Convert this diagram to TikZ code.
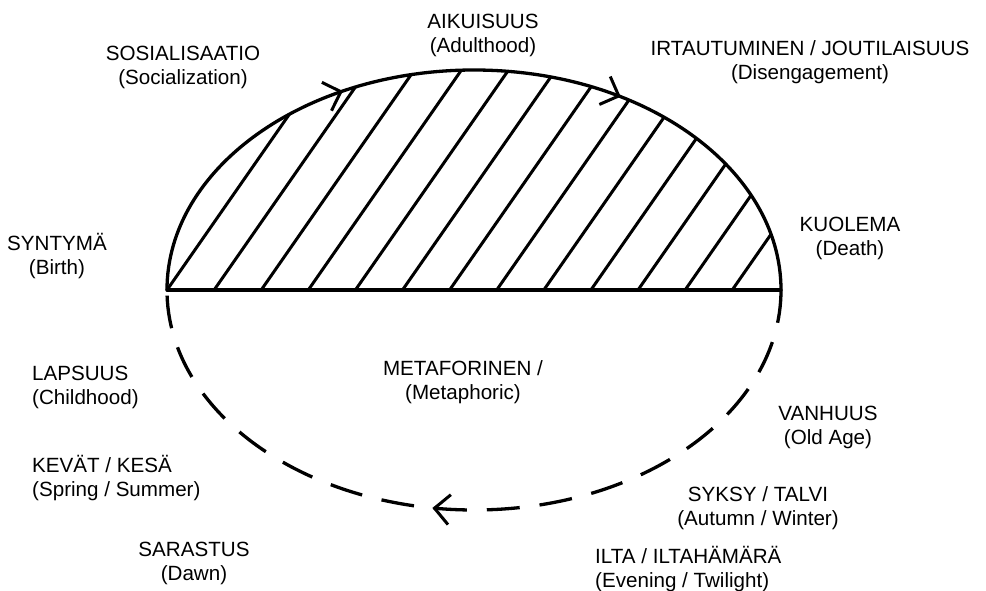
\documentclass[tikz,border=0pt]{standalone}
\usepackage{fontspec}
\setmainfont{Liberation Sans}
\usepackage{tikz}
\usepackage{xcolor}
\usetikzlibrary{
  arrows.meta, decorations.markings,
}
\definecolor{inkline}{RGB}{0,0,0}
\tikzset{
  stagelabel/.style={font=\fontsize{20.6}{24}\selectfont,align=center,inner sep=0pt,text=inkline},
  stageleft/.style={stagelabel,align=left,anchor=west},
  lifeline/.style={line width=3.3pt,inkline,line cap=round},
  hatchline/.style={line width=3pt,inkline},
  dashline/.style={line width=3.3pt,inkline,dash pattern=on 33pt off 20pt},
  barb/.tip={Straight Barb[length=15pt,width=30pt,line width=3pt]},
}

\begin{document}
\begin{tikzpicture}[x=1pt,y=-1pt]
  \useasboundingbox (0,0) rectangle (986,591);
  % Birth and death ends of the cycle
  \coordinate (birth) at (167,290);
  \coordinate (death) at (781,290);
  % Hatched upper half
  \begin{scope}
    \clip (birth) arc[start angle=180,end angle=360,x radius=307,y radius=220] -- cycle;
    \foreach \k in {0,...,12}
      \draw[hatchline] ({167+47.1*\k},290) -- ++(165,-237);
  \end{scope}
  \draw[lifeline] (birth) -- (death);
  \draw[lifeline,postaction={decorate},decoration={markings,
      mark=at position 0.34 with {\arrow{barb}},
      mark=at position 0.68 with {\arrow{barb}}}]
    (birth) arc[start angle=180,end angle=360,x radius=307,y radius=220];
  % Metaphoric lower half
  \draw[dashline,postaction={decorate},decoration={markings,
      mark=at position 0.55 with {\arrow{barb}}}]
    (death) arc[start angle=0,end angle=180,x radius=307,y radius=220];
  % Labels round the cycle
  \node[stagelabel] (sosialisaatio) at (183,67)  {SOSIALISAATIO\\(Socialization)};
  \node[stagelabel] (aikuisuus)     at (483,35)  {AIKUISUUS\\(Adulthood)};
  \node[stagelabel] (irtautuminen)  at (810,62)  {IRTAUTUMINEN / JOUTILAISUUS\\(Disengagement)};
  \node[stagelabel] (syntyma)       at (57,256)  {SYNTYMÄ\\(Birth)};
  \node[stagelabel] (kuolema)       at (850,238) {KUOLEMA\\(Death)};
  \node[stageleft]  (lapsuus)       at (32,387)  {LAPSUUS\\(Childhood)};
  \node[stageleft]  (kevat)         at (32,478)  {KEVÄT / KESÄ\\(Spring / Summer)};
  \node[stagelabel] (sarastus)      at (194,563) {SARASTUS\\(Dawn)};
  \node[stagelabel] (metaforinen)   at (463,382) {METAFORINEN /\\(Metaphoric)};
  \node[stagelabel] (vanhuus)       at (828,427) {VANHUUS\\(Old Age)};
  \node[stagelabel] (syksy)         at (758,508) {SYKSY / TALVI\\(Autumn / Winter)};
  \node[stageleft]  (ilta)          at (595,569) {ILTA / ILTAHÄMÄRÄ\\(Evening / Twilight)};
\end{tikzpicture}
\end{document}
